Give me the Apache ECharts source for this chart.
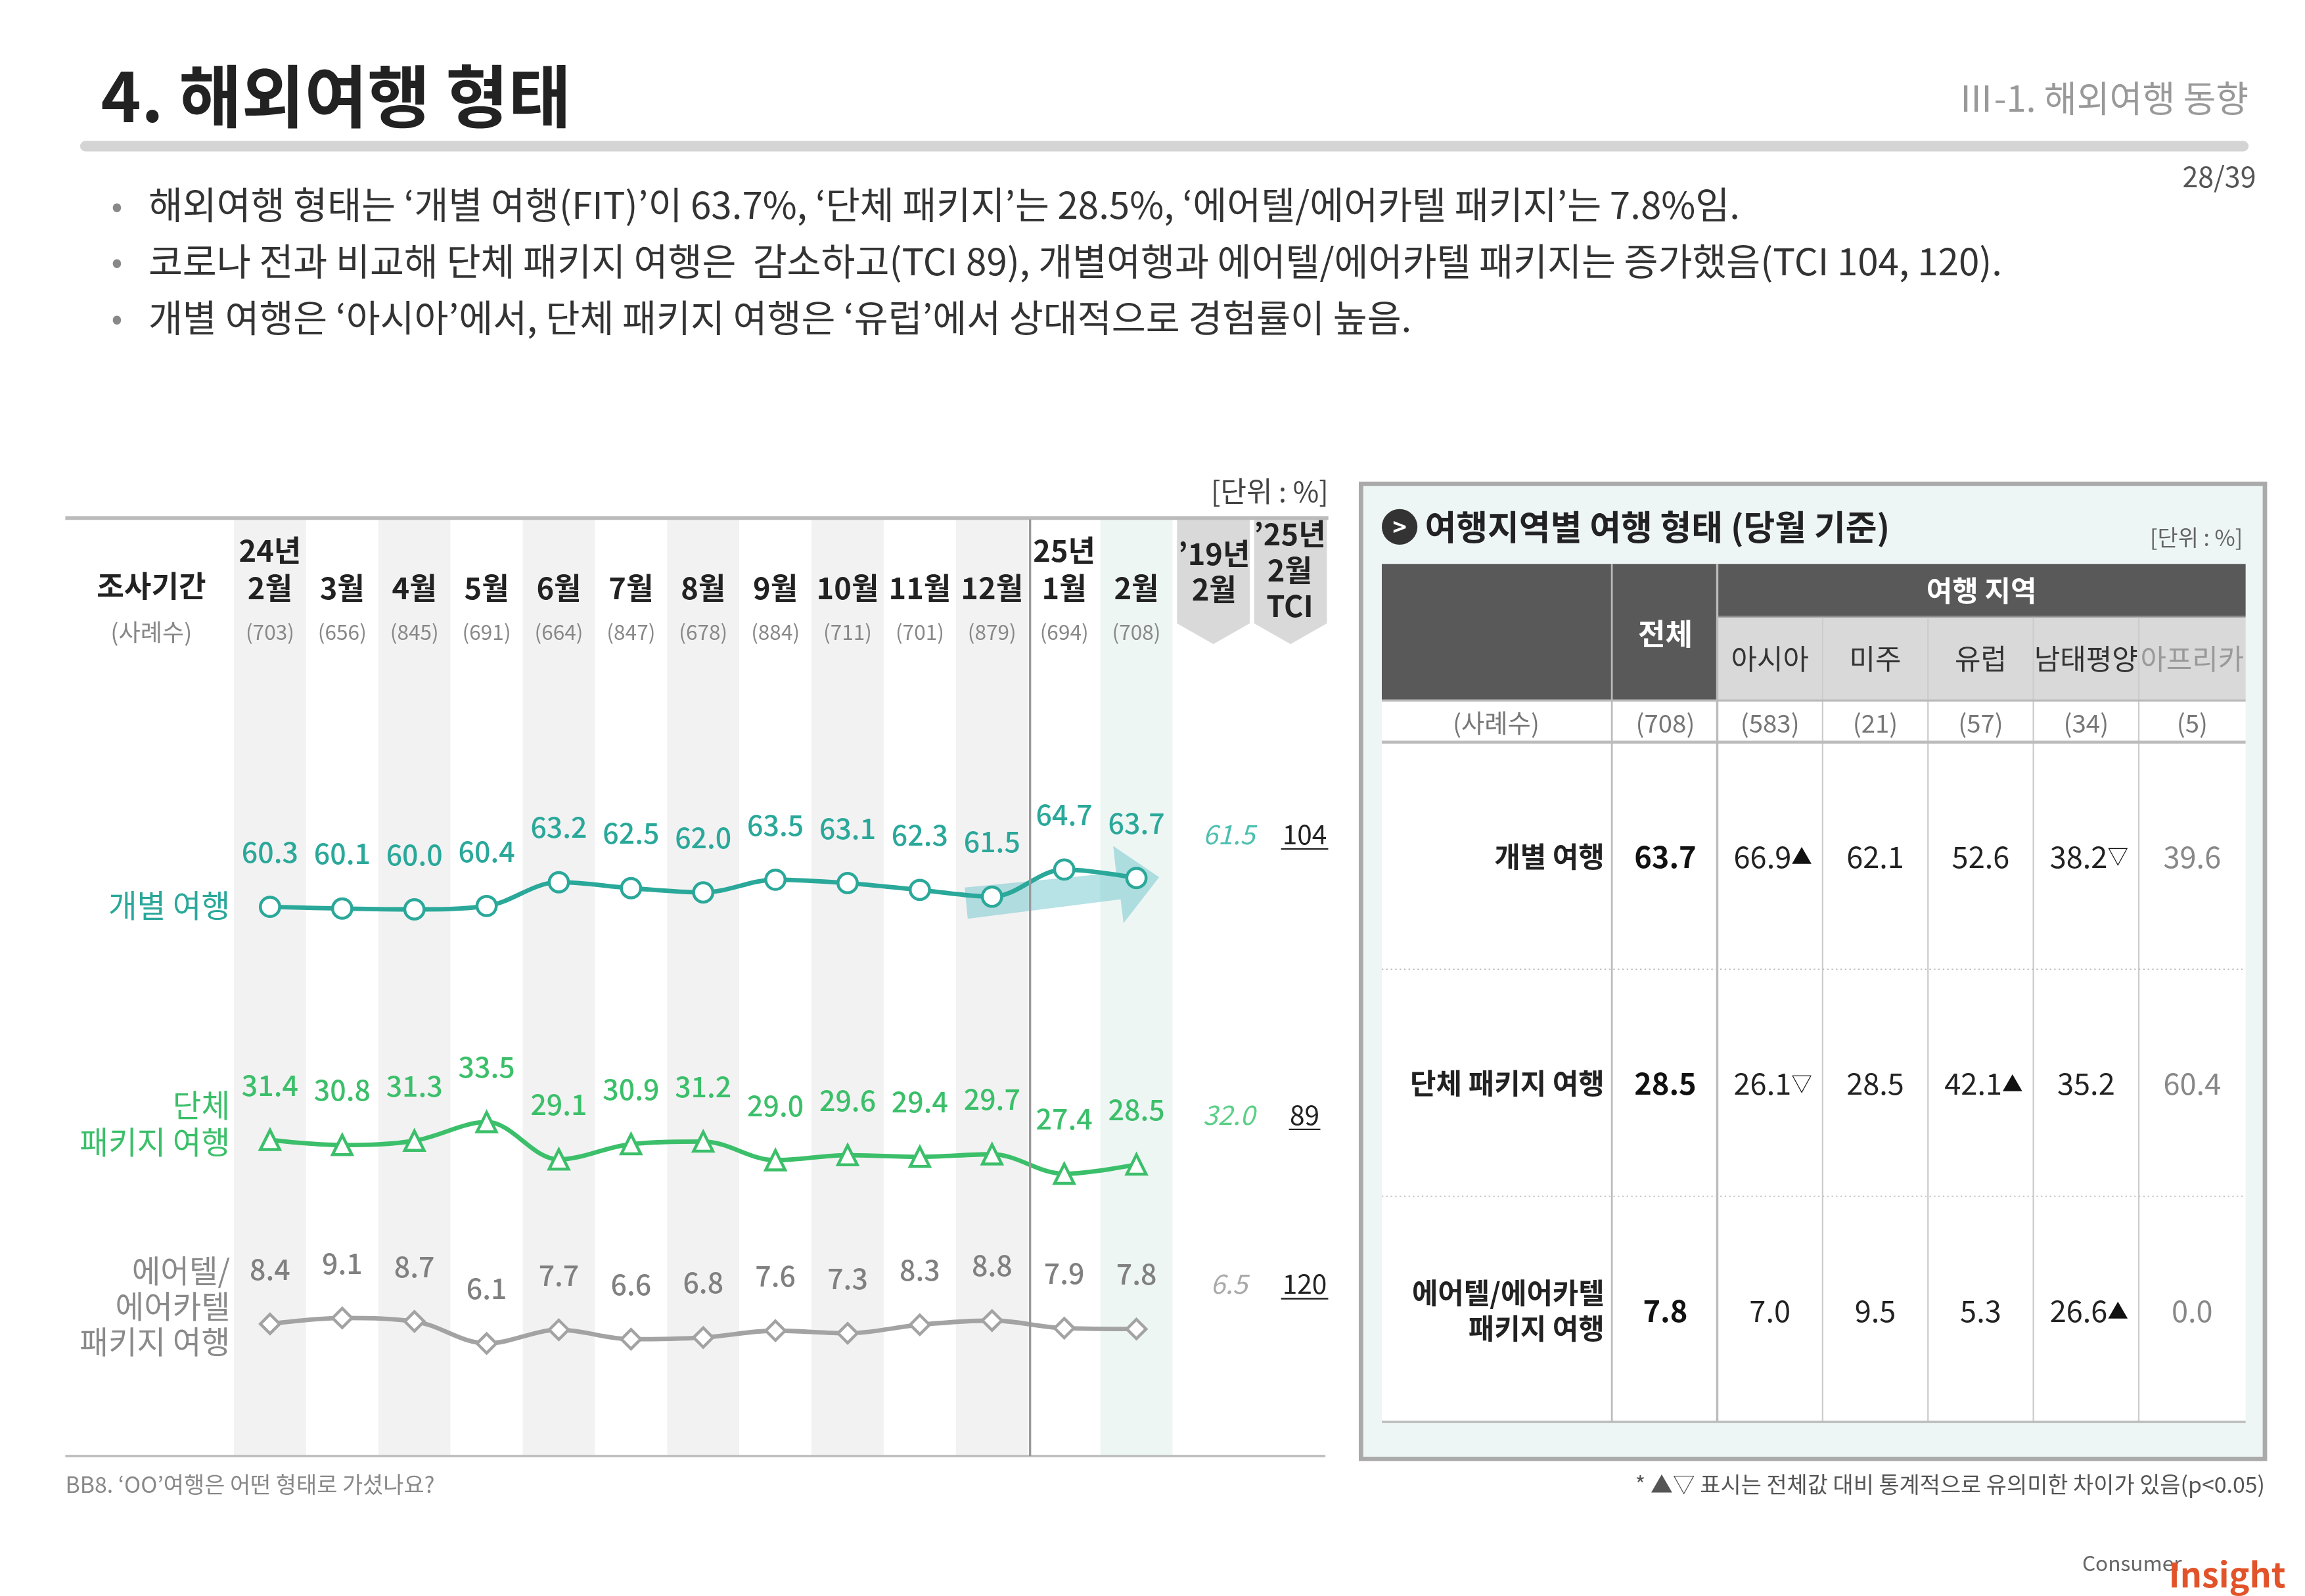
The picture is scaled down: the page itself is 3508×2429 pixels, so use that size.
<!DOCTYPE html>
<html><head><meta charset="utf-8">
<script src="https://cdn.jsdelivr.net/npm/echarts@6/dist/echarts.min.js"></script>
<style>html,body{margin:0;padding:0;background:#fff}#c{width:3508px;height:2429px}</style>
</head><body><div id="c"></div>
<script>
const months = ['2월','3월','4월','5월','6월','7월','8월','9월','10월','11월','12월','1월','2월'];
const years = ['24년','','','','','','','','','','','25년',''];
const samples = ['703','656','845','691','664','847','678','884','711','701','879','694','708'];
const fitValues = [60.3,60.1,60.0,60.4,63.2,62.5,62.0,63.5,63.1,62.3,61.5,64.7,63.7];
const pkgValues = [31.4,30.8,31.3,33.5,29.1,30.9,31.2,29.0,29.6,29.4,29.7,27.4,28.5];
const airValues = [8.4,9.1,8.7,6.1,7.7,6.6,6.8,7.6,7.3,8.3,8.8,7.9,7.8];
const prev19 = [61.5,32.0,6.5];
const tci = [104,89,120];
const regions = ['아시아','미주','유럽','남태평양','아프리카'];
const regionN = ['583','21','57','34','5'];
const totalN = '708';
const rowLabels = ['개별 여행','단체 패키지 여행','에어텔/에어카텔\n패키지 여행'];
const totals = [63.7,28.5,7.8];
const regionValues = [[66.9,62.1,52.6,38.2,39.6],[26.1,28.5,42.1,35.2,60.4],[7.0,9.5,5.3,26.6,0.0]];
const regionMarks = [['▲','','','▽',''],['▽','','▲','',''],['','','','▲','']];

const S = 3508/1553;
const p = v => v*S;
const F = '"Noto Sans CJK KR","Noto Sans",sans-serif';
const chart = echarts.init(document.getElementById('c'));
const G = [];
function T(x,y,text,size,fill,o){o=o||{};G.push({type:'text',z:o.z||5,style:{x:p(x),y:p(y),text:text,fontSize:p(size),fontFamily:F,fontWeight:o.w||'normal',fontStyle:o.it?'italic':'normal',fill:fill,align:o.a||'left',verticalAlign:o.v||'middle',lineHeight:o.lh?p(o.lh):undefined,rich:o.rich}});}
function R(x,y,w,h,fill,o){o=o||{};G.push({type:'rect',z:o.z||2,shape:{x:p(x),y:p(y),width:p(w),height:p(h),r:o.r?p(o.r):0},style:{fill:fill,stroke:o.stroke||null,lineWidth:o.lw?p(o.lw):0}});}
function L(x1,y1,x2,y2,color,w,o){o=o||{};G.push({type:'line',z:o.z||3,shape:{x1:p(x1),y1:p(y1),x2:p(x2),y2:p(y2)},style:{stroke:color,lineWidth:p(w),lineDash:o.dash?o.dash.map(p):null}});}

// header
T(68,65,'4. 해외여행 형태',46,'#222',{w:'bold'});
T(1515,66,'Ⅲ-1. 해외여행 동향',24,'#999',{a:'right'});
R(54,95,1461,7,'#d4d4d4',{r:3.5});
T(1520,119,'28/39',19,'#555',{a:'right'});
const bullets=['해외여행 형태는 ‘개별 여행(FIT)’이 63.7%, ‘단체 패키지’는 28.5%, ‘에어텔/에어카텔 패키지’는 7.8%임.',
'코로나 전과 비교해 단체 패키지 여행은  감소하고(TCI 89), 개별여행과 에어텔/에어카텔 패키지는 증가했음(TCI 104, 120).',
'개별 여행은 ‘아시아’에서, 단체 패키지 여행은 ‘유럽’에서 상대적으로 경험률이 높음.'];
bullets.forEach((b,i)=>{T(75,138+i*38,'•',22,'#888');T(100,138+i*38,b,25,'#333');});

// left chart decorations
T(895,331,'[단위 : %]',19,'#444',{a:'right'});
L(44,349,895,349,'#bbb',2.5);
L(44,981,893,981,'#bbb',1.5);
L(694,350,694,981,'#999',1.5,{z:4});
T(102,395,'조사기간',20,'#222',{a:'center',w:'bold'});
T(102,426,'(사례수)',16,'#888',{a:'center'});
T(155,610,'개별 여행',21,'#2aa89a',{a:'right'});
T(155,757,'단체\n패키지 여행',21,'#3cbf6a',{a:'right',lh:25});
T(155,880,'에어텔/\n에어카텔\n패키지 여행',21,'#8a8a8a',{a:'right',lh:24});
G.push({type:'polygon',z:1,shape:{points:[[650,598],[752,588],[750,570],[781,591],[757,622],[755,606],[652,619]].map(q=>[p(q[0]),p(q[1])])},style:{fill:'rgba(95,190,200,0.45)'}});
function chev(x,w){G.push({type:'polygon',z:2,shape:{points:[[x,350],[x+w,350],[x+w,420],[x+w/2,434],[x,420]].map(q=>[p(q[0]),p(q[1])])},style:{fill:'#d9d9d9'}});}
chev(793,49);chev(845,49);
T(818,385,'’19년\n2월',20,'#222',{a:'center',w:'bold',lh:24});
T(869,384,'’25년\n2월\nTCI',20,'#222',{a:'center',w:'bold',lh:24});
const rowY=[562,751,865], prevC=['#4dbfb0','#5ccf88','#aaa'];
prevC.forEach((c,i)=>{T(828,rowY[i],prev19[i].toFixed(1),18,c,{a:'center',it:true});const s=String(tci[i]);T(879,rowY[i],s,18,'#222',{a:'center'});const hw=s.length*5.3;L(879-hw,rowY[i]+10,879+hw,rowY[i]+10,'#222',1);});
T(44,1000,'BB8. ‘OO’여행은 어떤 형태로 가셨나요?',15,'#888');
T(1526,1000,'* ▲▽ 표시는 전체값 대비 통계적으로 유의미한 차이가 있음(p<0.05)',15,'#555',{a:'right'});
T(1470,1053,'Consumer',14,'#666',{a:'right'});
T(1540,1061,'Insight',23,'#e2532a',{w:'bold',a:'right'});

// right panel
R(917,326,609,657,'#eef6f5',{stroke:'#aaa',lw:3,z:1});
G.push({type:'circle',z:3,shape:{cx:p(943),cy:p(355),r:p(12)},style:{fill:'#333'}});
T(943,355,'>',16,'#fff',{a:'center',w:'bold'});
T(960,355,'여행지역별 여행 형태 (당월 기준)',23,'#222',{w:'bold'});
T(1511,362,'[단위 : %]',15,'#666',{a:'right'});
const cx=[931,1086,1157,1228,1299,1370,1441,1513];
R(931,380,226,92,'#595959');
R(1157,380,356,35,'#595959');
R(1157,416,356,56,'#d9d9d9');
R(931,472,582,486,'#fff');
L(1157,415.5,1513,415.5,'#888',1);
L(1086,380,1086,958,'#bbb',1.2);
L(1157,380,1157,958,'#bbb',1.5);
for(let i=3;i<7;i++) L(cx[i],416,cx[i],958,'#ccc',1);
L(931,472,1513,472,'#bbb',1.5);
L(931,500,1513,500,'#bbb',2);
L(931,653,1513,653,'#bbb',0.8,{dash:[1,2]});
L(931,806,1513,806,'#bbb',0.8,{dash:[1,2]});
L(931,958,1513,958,'#bbb',1.5);
T(1122,427,'전체',20,'#fff',{a:'center',w:'bold'});
T(1335,398,'여행 지역',19,'#fff',{a:'center',w:'bold'});
regions.forEach((r,i)=>T((cx[i+2]+cx[i+3])/2,444,r,19,i==4?'#999':'#333',{a:'center'}));
T(1008,487,'(사례수)',17,'#777',{a:'center'});
T(1122,487,'('+totalN+')',17,'#777',{a:'center'});
regionN.forEach((n,i)=>T((cx[i+2]+cx[i+3])/2,487,'('+n+')',17,'#777',{a:'center'}));
const dY=[577,730,883];
rowLabels.forEach((l,j)=>{
 T(1081,dY[j],l,19,'#222',{a:'right',w:'bold',lh:24});
 T(1122,dY[j],totals[j].toFixed(1),20,'#111',{a:'center',w:'bold'});
 regionValues[j].forEach((v,i)=>{
   const m=regionMarks[j][i];
   const c=(cx[i+2]+cx[i+3])/2;
   T(m?c+2:c,dY[j],'{v|'+v.toFixed(1)+'}'+(m?'{m|'+m+'}':''),20,i==4?'#888':'#222',{a:'center',rich:{v:{fontSize:p(20),fontFamily:F,fill:i==4?'#888':'#222'},m:{fontSize:p(14),fontFamily:F,fill:'#111'}}});
 });
});

const gl=p(157.6), gw=p(632.4);
const stripeColors=months.map((m,i)=>i==12?'#eef6f4':(i%2==0?'#f2f2f2':'#ffffff'));
const catAxis=(gi)=>({type:'category',gridIndex:gi,data:months,boundaryGap:true,show:false});
const lineSeries=(gi,data,color,symbol,lc)=>({type:'line',xAxisIndex:gi,yAxisIndex:gi,data:data,smooth:0.35,z:3,
 symbol:symbol,symbolSize:p(13),lineStyle:{color:color,width:p(3)},itemStyle:{color:'#fff',borderColor:color,borderWidth:p(2)},
 label:{show:true,position:'top',distance:p(20),formatter:o=>o.value.toFixed(1),fontSize:p(19),fontFamily:F,color:lc,fontWeight:'500'}});
chart.setOption({
 animation:false,
 grid:[{left:gl,width:gw,top:p(350),height:p(631)},
  {left:gl,width:gw,top:p(555.6),height:p(114.2)},
  {left:gl,width:gw,top:p(718.9),height:p(114.2)},
  {left:gl,width:gw,top:p(854.3),height:p(85.7)}],
 xAxis:[{type:'category',gridIndex:0,data:months,position:'top',boundaryGap:true,axisLine:{show:false},axisTick:{show:false},
   axisLabel:{inside:true,margin:p(9),verticalAlign:'top',interval:0,
    formatter:(v,i)=>'{y|'+(years[i]||' ')+'}\n{m|'+v+'}\n{n|('+samples[i]+')}',
    rich:{y:{fontSize:p(20),fontWeight:'bold',color:'#222',fontFamily:F,lineHeight:p(24)},
          m:{fontSize:p(20),fontWeight:'bold',color:'#222',fontFamily:F,lineHeight:p(26)},
          n:{fontSize:p(14),color:'#888',fontFamily:F,lineHeight:p(34)}}}},
  catAxis(1),catAxis(2),catAxis(3)],
 yAxis:[{type:'value',gridIndex:0,min:0,max:1,show:false},
  {type:'value',gridIndex:1,min:50,max:70,show:false},
  {type:'value',gridIndex:2,min:20,max:40,show:false},
  {type:'value',gridIndex:3,min:0,max:15,show:false}],
 series:[{type:'bar',xAxisIndex:0,yAxisIndex:0,z:0,silent:true,barWidth:'100%',
   data:stripeColors.map(c=>({value:1,itemStyle:{color:c}}))},
  lineSeries(1,fitValues,'#2aa89a','circle','#2aa89a'),
  lineSeries(2,pkgValues,'#3cbf6a','triangle','#3cbf6a'),
  lineSeries(3,airValues,'#a3a3a3','diamond','#808080')],
 graphic:G
});
</script></body></html>
